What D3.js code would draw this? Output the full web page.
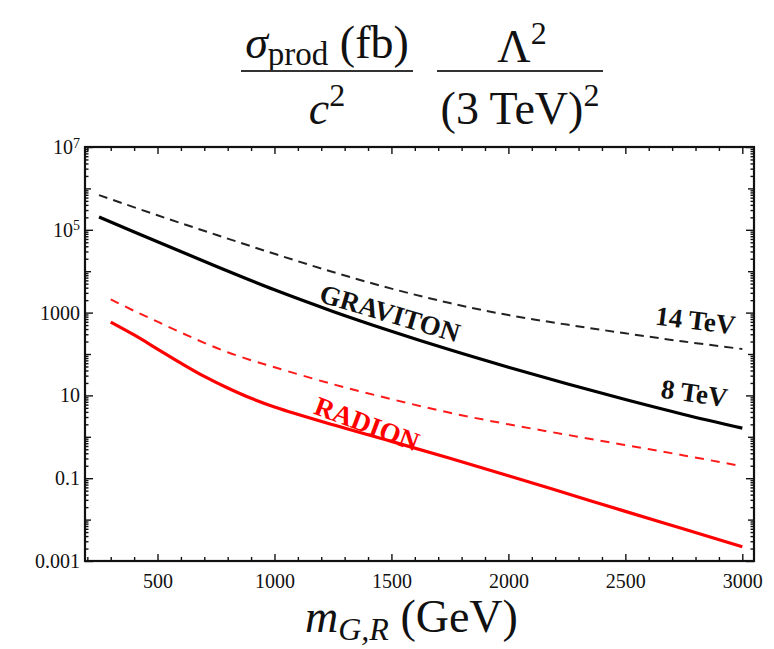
<!DOCTYPE html>
<html>
<head>
<meta charset="utf-8">
<script src="https://cdn.jsdelivr.net/npm/d3@7"></script>
<style>
body { margin: 0; background: #fff; }
text { font-family: "Liberation Serif", "DejaVu Serif", serif; }
</style>
</head>
<body>
<svg id="chart" width="774" height="649"></svg>
<script>
var massGraviton = [250, 500, 750, 1000, 1250, 1500, 1750, 2000, 2250, 2500, 2750, 3000];
var graviton14 = [6.9e5, 2.24e5, 7.6e4, 2.63e4, 9550, 3800, 1700, 871, 513, 316, 200, 132];
var graviton8 = [2.04e5, 5.13e4, 1.32e4, 3550, 1070, 355, 126, 47.9, 19.1, 7.94, 3.47, 1.62];

var massRadion = [300, 400, 500, 600, 700, 800, 900, 1000, 1250, 1500, 1750, 2000, 2250, 2500, 2750, 3000];
var radion14 = [2090, 1100, 603, 331, 186, 110, 70.8, 47.9, 18.6, 8.13, 3.80, 2.0, 1.12, 0.631, 0.355, 0.195];
var radion8 = [589, 288, 132, 60.3, 28.8, 15.1, 8.51, 5.25, 1.95, 0.776, 0.302, 0.115, 0.0427, 0.0158, 0.0059, 0.0022];

var xTicks = [500, 1000, 1500, 2000, 2500, 3000];
var yTicks = [1e-3, 1e-1, 10, 1e3, 1e5, 1e7];
var yTickLabels = ["0.001", "0.1", "10", "1000", "10^5", "10^7"];

var svg = d3.select("#chart");

var x = d3.scaleLinear().domain([190, 3050]).range([85, 754]);
var y = d3.scaleLog().domain([1e-3, 1e7]).range([561, 147]);

var xMinor = d3.range(200, 3001, 100).filter(d => d % 500 != 0);
var yMid = [];
var yMinor = [];
for (var k = -3; k < 7; k++) {
    if (k % 2 == 0) yMid.push(Math.pow(10, k));
    for (var m = 2; m < 10; m++) yMinor.push(m * Math.pow(10, k));
}

function tickAxis(axis, size, values) {
    return axis.tickValues(values).tickSize(-size).tickFormat("");
}

function drawAxis(axis, tx, ty) {
    var g = svg.append("g")
        .attr("transform", `translate(${tx},${ty})`)
        .call(axis);
    g.select(".domain").remove();
    g.selectAll("line").attr("stroke", "#111").attr("stroke-width", 1.4);
    return g;
}

// minor ticks on all four sides
drawAxis(tickAxis(d3.axisBottom(x), 4, xMinor), 0, 561);
drawAxis(tickAxis(d3.axisTop(x), 4, xMinor), 0, 147);
[[6, yMid], [3.5, yMinor]].forEach(function (t) {
    drawAxis(tickAxis(d3.axisLeft(y), t[0], t[1]), 85, 0);
    drawAxis(tickAxis(d3.axisRight(y), t[0], t[1]), 754, 0);
});
drawAxis(tickAxis(d3.axisTop(x), 7, xTicks), 0, 147);
drawAxis(tickAxis(d3.axisRight(y), 8, yTicks), 754, 0);

var xAxis = drawAxis(d3.axisBottom(x).tickValues(xTicks).tickSize(-7).tickPadding(13)
    .tickFormat(d3.format("d")), 0, 561);
xAxis.selectAll("text")
    .style("font-family", "Liberation Serif")
    .style("font-size", "20px")
    .attr("fill", "#111");

var yAxis = drawAxis(d3.axisLeft(y).tickValues(yTicks).tickSize(-8).tickPadding(5)
    .tickFormat((d, i) => yTickLabels[i]), 85, 0);
yAxis.selectAll("text")
    .style("font-family", "Liberation Serif")
    .style("font-size", "20px")
    .attr("fill", "#111")
    .each(function (d, i) {
        var lab = yTickLabels[i];
        if (lab.indexOf("^") > 0) {
            var parts = lab.split("^");
            var t = d3.select(this).text("");
            t.append("tspan").text(parts[0]);
            t.append("tspan").attr("dy", "-0.45em").style("font-size", "14px").text(parts[1]);
        }
    });

// frame
svg.append("rect")
    .attr("x", 85)
    .attr("y", 147)
    .attr("width", 754 - 85)
    .attr("height", 561 - 147)
    .attr("fill", "none")
    .attr("stroke", "#111")
    .attr("stroke-width", 2.2);

var line = d3.line()
    .x(d => x(d[0]))
    .y(d => y(d[1]))
    .curve(d3.curveCatmullRom.alpha(0.5));

var series = [
    { m: massGraviton, v: graviton14, color: "#222", width: 2, dash: "9,6" },
    { m: massGraviton, v: graviton8, color: "#000", width: 3.2, dash: null },
    { m: massRadion, v: radion14, color: "#ff1a1a", width: 2, dash: "9,7" },
    { m: massRadion, v: radion8, color: "#ff0000", width: 3.2, dash: null }
];

svg.selectAll(".curve")
    .data(series)
    .join("path")
    .attr("class", "curve")
    .attr("d", s => line(s.m.map((d, i) => [d, s.v[i]])))
    .attr("fill", "none")
    .attr("stroke", s => s.color)
    .attr("stroke-width", s => s.width)
    .attr("stroke-dasharray", s => s.dash);

var labels = [
    { text: "GRAVITON", m: 1494, v: 980, angle: 16.5, color: "#111" },
    { text: "RADION", m: 1396, v: 2.1, angle: 20.5, color: "#ff0000" },
    { text: "14 TeV", m: 2800, v: 660, angle: 7, color: "#111" },
    { text: "8 TeV", m: 2795, v: 11.5, angle: 8, color: "#111" }
];

svg.selectAll(".lab")
    .data(labels)
    .join("text")
    .attr("class", "lab")
    .attr("transform", d => `translate(${x(d.m)},${y(d.v)}) rotate(${d.angle})`)
    .attr("text-anchor", "middle")
    .attr("dy", "0.35em")
    .style("font-size", "27px")
    .style("font-weight", 700)
    .attr("fill", d => d.color)
    .text(d => d.text);

// title: two fractions
var title = svg.append("g").attr("fill", "#111");

var num1 = title.append("text")
    .attr("x", 327)
    .attr("y", 58)
    .attr("text-anchor", "middle")
    .style("font-size", "46px");
num1.append("tspan").style("font-style", "italic").text("σ");
num1.append("tspan").attr("dy", 7).style("font-size", "33px").text("prod");
num1.append("tspan").attr("dy", -7).text(" (fb)");

var den1 = title.append("text")
    .attr("x", 327)
    .attr("y", 124)
    .attr("text-anchor", "middle")
    .style("font-size", "46px");
den1.append("tspan").style("font-style", "italic").text("c");
den1.append("tspan").attr("dy", -18).style("font-size", "32px").text("2");

var num2 = title.append("text")
    .attr("x", 522)
    .attr("y", 62)
    .attr("text-anchor", "middle")
    .style("font-size", "46px");
num2.append("tspan").text("Λ");
num2.append("tspan").attr("dy", -18).style("font-size", "32px").text("2");

var den2 = title.append("text")
    .attr("x", 520)
    .attr("y", 124)
    .attr("text-anchor", "middle")
    .style("font-size", "46px");
den2.append("tspan").text("(3 TeV)");
den2.append("tspan").attr("dy", -18).style("font-size", "32px").text("2");

title.selectAll("line")
    .data([[241, 413], [437, 603]])
    .join("line")
    .attr("x1", d => d[0])
    .attr("x2", d => d[1])
    .attr("y1", 71)
    .attr("y2", 71)
    .attr("stroke", "#333")
    .attr("stroke-width", 2.2);

// x axis title
var xt = svg.append("text")
    .attr("x", 305)
    .attr("y", 632)
    .attr("fill", "#111")
    .style("font-size", "46px");
xt.append("tspan").style("font-style", "italic").text("m");
xt.append("tspan").attr("dy", 8).style("font-size", "32px").style("font-style", "italic").text("G,R");
xt.append("tspan").attr("dy", -8).text(" (GeV)");
</script>
</body>
</html>
